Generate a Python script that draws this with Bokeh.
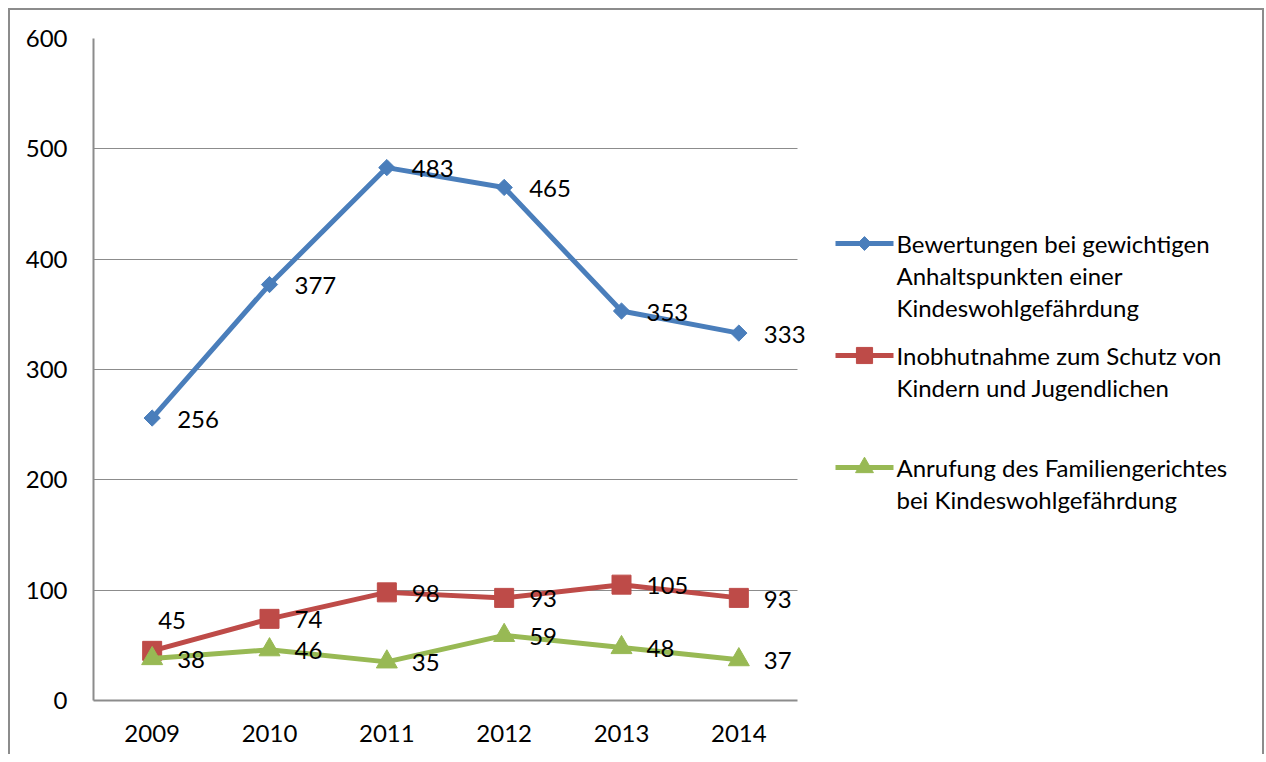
import math
from bokeh.plotting import figure
from bokeh.models import Range1d, ColumnDataSource, SingleIntervalTicker, FixedTicker
from bokeh.layouts import row
from bokeh.core.properties import value
from bokeh.embed import file_html
from bokeh.resources import INLINE

# ---- data ----
years = ["2009", "2010", "2011", "2012", "2013", "2014"]
bewertungen = [256, 377, 483, 465, 353, 333]
inobhutnahme = [45, 74, 98, 93, 105, 93]
anrufung = [38, 46, 35, 59, 48, 37]

legend_lines = [
    ["Bewertungen bei gewichtigen", "Anhaltspunkten einer", "Kindeswohlgefährdung"],
    ["Inobhutnahme zum Schutz von", "Kindern und Jugendlichen"],
    ["Anrufung des Familiengerichtes", "bei Kindeswohlgefährdung"],
]

FONT = "Lato"
FS = "24px"
BLUE, RED, GREEN = "#4A7EBB", "#BE4B48", "#98B954"
GRAY = "#8c8c8c"
LW = 5

series = [
    dict(vals=bewertungen, color=BLUE, marker="square", size=11.5, angle=math.pi / 4),
    dict(vals=inobhutnahme, color=RED, marker="square", size=19, angle=0),
    dict(vals=anrufung, color=GREEN, marker="triangle", size=21, angle=0),
]

# label placement (screen px offsets from the point, y down); Excel moved one label above
label_dx = [[25] * 6, [6, 25, 25, 25, 25, 25], [25] * 6]
label_dy = [[1] * 6, [-30, 1, 1, 1, 1, 2], [1] * 6]

pos = list(range(1, len(years) + 1))          # category slots 1..6
n = len(years)
FRAME_W, FRAME_H = 717, 662
cat_w = 704 / n                                 # px per category
x_end = 0.5 + FRAME_W / cat_w                   # frame extends a bit past the last slot

W_MAIN, H = 810, 744
p = figure(
    width=W_MAIN, height=H,
    x_range=Range1d(0.5, x_end),
    y_range=Range1d(0, 600),
    output_backend="svg", toolbar_location=None,
    min_border_left=83, min_border_right=W_MAIN - 83 - FRAME_W,
    min_border_top=28, min_border_bottom=H - 28 - FRAME_H,
)
p.outline_line_color = None
p.xgrid.grid_line_color = None
p.yaxis.ticker = SingleIntervalTicker(interval=100)
p.xaxis.ticker = FixedTicker(ticks=pos)
p.xaxis.major_label_overrides = {k: y for k, y in zip(pos, years)}
p.xaxis.bounds = (0.5, n + 0.5)

grid_vals = list(range(100, 601, 100))
if "cross_bounds" in p.ygrid[0].properties():
    p.ygrid.grid_line_color = GRAY
    p.ygrid.grid_line_width = 1
    p.ygrid.cross_bounds = (0.5, n + 0.5)
else:
    p.ygrid.grid_line_color = None
    p.segment(x0=[0.5] * len(grid_vals), x1=[n + 0.5] * len(grid_vals),
              y0=grid_vals, y1=grid_vals, line_color=GRAY, line_width=1)

for ax in (p.xaxis[0], p.yaxis[0]):
    ax.axis_line_color = GRAY
    ax.axis_line_width = 2
    ax.major_tick_line_color = None
    ax.minor_tick_line_color = None
    ax.major_tick_in = 0
    ax.major_tick_out = 0
    ax.minor_tick_in = 0
    ax.minor_tick_out = 0
    ax.major_label_text_font = FONT
    ax.major_label_text_font_size = FS
    ax.major_label_text_color = "black"
p.yaxis.major_label_standoff = 26
p.xaxis.major_label_standoff = 24

label_sources = []
for i, s in enumerate(series):
    src = ColumnDataSource(dict(
        x=pos, y=s["vals"], label=[str(v) for v in s["vals"]],
        dx=label_dx[i], dy=label_dy[i],
    ))
    p.line(x="x", y="y", source=src, line_color=s["color"], line_width=LW)
    p.scatter(x="x", y="y", source=src, marker=s["marker"], size=s["size"],
              angle=s["angle"], fill_color=s["color"], line_color=s["color"])
    label_sources.append(src)

for src in label_sources:
    p.text(x="x", y="y", text="label", source=src, x_offset="dx", y_offset="dy",
           text_font=value(FONT), text_font_size=FS, text_color="black",
           text_align="left", text_baseline="middle")

# ---- legend panel (its frame is aligned with the main frame: page y 38..700) ----
W_LEG = 442
leg = figure(
    width=W_LEG, height=H,
    x_range=Range1d(0, W_LEG), y_range=Range1d(700, 38),
    x_axis_type=None, y_axis_type=None,
    output_backend="svg", toolbar_location=None,
    min_border=0, min_border_top=28, min_border_bottom=H - 28 - FRAME_H,
)
leg.grid.visible = False
leg.outline_line_color = None

x0, x1, xm, xt = 15, 73, 44, 76
y_starts = [243, 355, 467]
line_h = 32
for s, lines, y0 in zip(series, legend_lines, y_starts):
    leg.line(x=[x0, x1], y=[y0, y0], line_color=s["color"], line_width=LW)
    leg.scatter(x=[xm], y=[y0], marker=s["marker"], size=s["size"] * 0.85,
                angle=s["angle"], fill_color=s["color"], line_color=s["color"])
    leg.text(x=[xt] * len(lines), y=[y0 + k * line_h for k in range(len(lines))],
             text=lines, text_font=value(FONT), text_font_size=FS,
             text_color="black", text_align="left", text_baseline="middle")

layout = row(p, leg, styles={
    "margin-left": "8px",
    "margin-top": "8px",
    "border-top": "2px solid #8c8c8c",
    "border-left": "2px solid #8c8c8c",
    "border-right": "2px solid #8c8c8c",
})

open("out.html", "w").write(file_html(layout, INLINE))
